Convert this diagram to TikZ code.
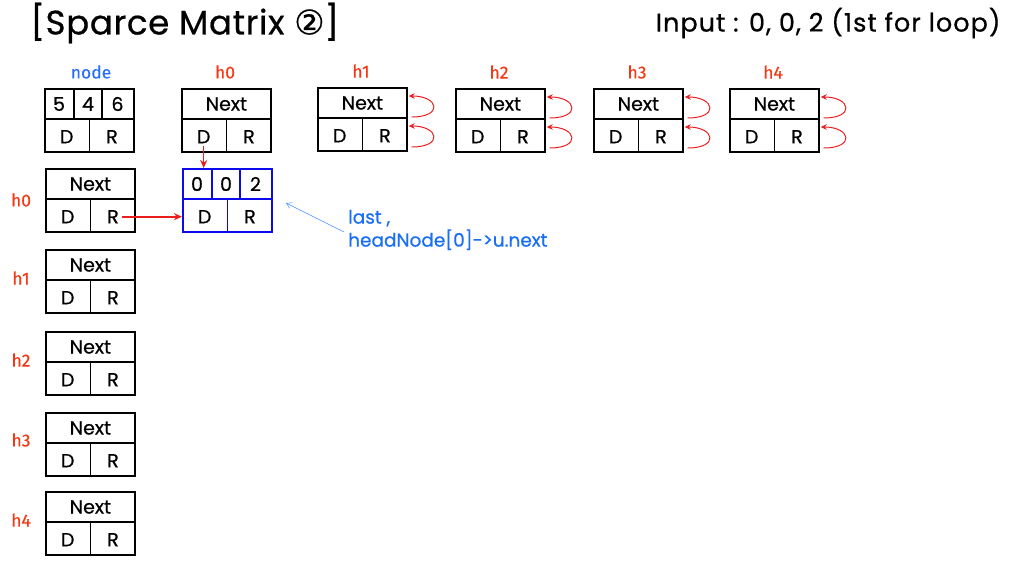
\documentclass[tikz,border=0pt]{standalone}
\usepackage{fontspec}
\setmainfont{Poppins}[FakeBold=0.6]
\newfontfamily\labfont{Fira Sans}[FakeBold=0.3]
\newfontfamily\symfont{DejaVu Sans}[FakeBold=0.6]
\usetikzlibrary{arrows.meta,calc}

\definecolor{hred}{RGB}{245,55,20}
\definecolor{nblue}{RGB}{40,110,250}
\definecolor{annblue}{RGB}{25,110,245}
\definecolor{arrred}{RGB}{235,30,30}
\definecolor{boxblue}{RGB}{10,10,235}

\tikzset{
  cellbox/.style={draw=black, line width=1.7pt, minimum width=89pt, minimum height=63pt,
    anchor=north west, inner sep=0pt},
  divider/.style={draw=black, line width=1.5pt},
  celltxt/.style={font=\fontsize{19pt}{21pt}\selectfont, inner sep=1pt},
  hlabel/.style={text=hred, font=\labfont\fontsize{17.5pt}{19pt}\selectfont},
  redarrow/.style={draw=arrred, line width=1.6pt, -{Stealth[length=8pt,width=7pt]}},
  selfloop/.style={draw=arrred, line width=1pt, -{Stealth[length=6pt,width=5.5pt]}},
}

% Header node: a "Next" row above a D | R row.
% #1 name, #2 left x, #3 top y, #4 frame colour
\newcommand\headbox[4]{%
  \node[cellbox, draw=#4] (#1) at (#2,#3) {};
  \draw[divider, draw=#4] ([yshift=-31pt]#1.north west) -- ([yshift=-31pt]#1.north east);
  \draw[divider, draw=#4] ([yshift=-31pt]#1.north) -- (#1.south);
  \node[celltxt] (#1-N) at ([yshift=-16pt]#1.north) {Next};
  \node[celltxt] (#1-D) at ($(#1.south west)!0.5!(#1.south)+(0,16pt)$) {D};
  \node[celltxt] (#1-R) at ($(#1.south east)!0.5!(#1.south)+(0,16pt)$) {R};
}

% Entry node: row / col / value above a D | R row.
% #1 name, #2 left x, #3 top y, #4 frame colour, #5 #6 #7 entries
\newcommand\entrybox[7]{%
  \node[cellbox, draw=#4] (#1) at (#2,#3) {};
  \draw[divider, draw=#4] ([yshift=-31pt]#1.north west) -- ([yshift=-31pt]#1.north east);
  \draw[divider, draw=#4] ([yshift=-31pt]#1.north) -- (#1.south);
  \draw[divider, draw=#4] ([xshift=30pt]#1.north west) -- ([xshift=30pt,yshift=-31pt]#1.north west);
  \draw[divider, draw=#4] ([xshift=58pt]#1.north west) -- ([xshift=58pt,yshift=-31pt]#1.north west);
  \node[celltxt] (#1-a) at ([xshift=15pt,yshift=-16pt]#1.north west) {#5};
  \node[celltxt] (#1-b) at ([xshift=44pt,yshift=-16pt]#1.north west) {#6};
  \node[celltxt] (#1-c) at ([xshift=73.5pt,yshift=-16pt]#1.north west) {#7};
  \node[celltxt] (#1-D) at ($(#1.south west)!0.5!(#1.south)+(0,16pt)$) {D};
  \node[celltxt] (#1-R) at ($(#1.south east)!0.5!(#1.south)+(0,16pt)$) {R};
}

% Empty row/column pointers point back to their own header.
\newcommand\selfloops[1]{%
  \draw[selfloop] ([xshift=4pt,yshift=-30pt]#1.north east)
     .. controls +(32pt,0) and +(30pt,0) .. ([xshift=1pt,yshift=-9pt]#1.north east);
  \draw[selfloop] ([xshift=4pt,yshift=-60pt]#1.north east)
     .. controls +(32pt,0) and +(30pt,0) .. ([xshift=1pt,yshift=-39pt]#1.north east);
}

\begin{document}
\begin{tikzpicture}[x=1pt,y=-1pt]
\useasboundingbox (0,0) rectangle (1021,571);

% titles
\node[anchor=west, font=\fontsize{34pt}{38pt}\selectfont\addfontfeatures{LetterSpace=2}]
  (title) at (27,23) {[Sparce Matrix {\symfont ②}]};
\node[anchor=east, font=\fontsize{25.5pt}{29pt}\selectfont\addfontfeatures{LetterSpace=4}]
  (input) at (1004,23) {Input : 0, 0, 2 (1st for loop)};

% header row
\node[text=nblue, font=\labfont\fontsize{17.5pt}{19pt}\selectfont] (lblnode) at (91,72) {node};
\entrybox{node}{44}{88}{black}{5}{4}{6}
\node[hlabel] (lt0) at (225,72) {h0};
\headbox{t0}{181}{88}{black}
\node[hlabel] (lt1) at (361,71) {h1};
\headbox{t1}{317}{87}{black}
\node[hlabel] (lt2) at (499,72) {h2};
\headbox{t2}{455}{88}{black}
\node[hlabel] (lt3) at (637,72) {h3};
\headbox{t3}{593}{88}{black}
\node[hlabel] (lt4) at (773,72) {h4};
\headbox{t4}{729}{88}{black}

\selfloops{t1}
\selfloops{t2}
\selfloops{t3}
\selfloops{t4}

% header column
\node[hlabel] (ll0) at (21,200) {h0};
\headbox{l0}{45}{168}{black}
\node[hlabel] (ll1) at (21,278) {h1};
\headbox{l1}{45}{249}{black}
\node[hlabel] (ll2) at (21,360) {h2};
\headbox{l2}{45}{331}{black}
\node[hlabel] (ll3) at (21,440) {h3};
\headbox{l3}{45}{412}{black}
\node[hlabel] (ll4) at (21,520) {h4};
\headbox{l4}{45}{491}{black}

% new entry (0,0,2)
\entrybox{e}{182}{168}{boxblue}{0}{0}{2}

\draw[redarrow] ([yshift=-1pt]t0-D.south) -- (t0-D.south |- e.north);
\draw[redarrow] ([xshift=2pt]l0-R.east) -- (l0-R.east -| e.west);

% annotation
\node[anchor=west, align=left, text=annblue, font=\fontsize{18.5pt}{23pt}\selectfont,
      inner sep=0pt] (ann) at (348,230) {last ,\\headNode[0]->u.next};
\coordinate (lastptr) at (286,203);
\draw[draw=annblue!80, line width=0.5pt, -{Straight Barb[length=5pt,width=6pt]}]
  ([xshift=-4pt,yshift=-2pt]ann.west) -- (lastptr);
\end{tikzpicture}
\end{document}
